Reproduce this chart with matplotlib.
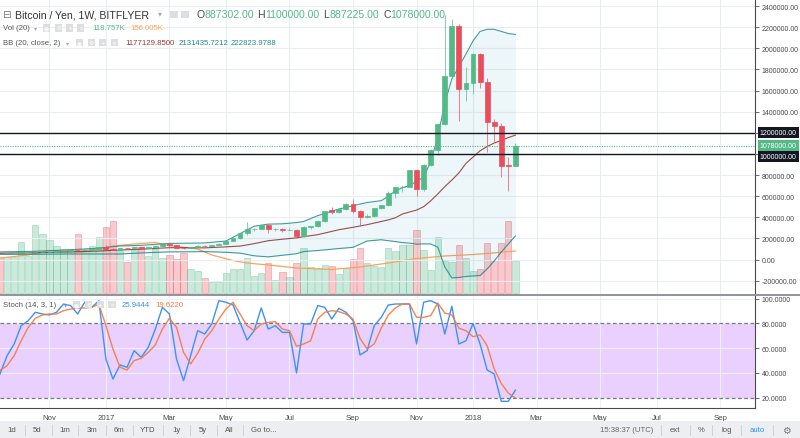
import numpy as np
import pandas as pd
import matplotlib
matplotlib.use('Agg')
import matplotlib.pyplot as plt
import matplotlib.dates as mdates
from matplotlib.patches import Rectangle
from matplotlib.lines import Line2D

plt.rcParams['font.family'] = ['Liberation Sans', 'DejaVu Sans']

# weekly bars BTC/JPY (bitFlyer), prices in thousand yen
first_week = '2016-09-19'
opens = [62.5, 61.8, 62.5, 63.6, 66.4, 68.0, 73.5, 74.0, 75.5, 81.5,
         83.5, 87.5, 86.8, 92.0, 103.8, 116.5, 104.0, 94.0, 105.0, 104.2,
         115.0, 113.0, 119.0, 131.0, 144.5, 139.0, 113.0, 107.5, 120.5, 131.0,
         127.0, 138.5, 151.0, 176.0, 200.0, 250.0, 285.0, 290.0, 330.0, 285.0,
         289.0, 281.0, 284.0, 220.0, 310.0, 313.0, 362.0, 468.0, 452.0, 478.0,
         525.0, 455.0, 402.0, 415.0, 485.0, 516.0, 630.0, 684.0, 690.0, 845.0,
         665.0, 898.0, 1037.0, 1283.0, 1740.0, 2208.0, 1615.0, 1670.0, 1946.0, 1684.0,
         1305.0, 1267.0, 898.0, 887.302]
highs = [63.5, 63.0, 64.0, 67.0, 68.5, 74.5, 76.5, 77.0, 82.0, 84.5,
         88.0, 89.5, 92.5, 104.5, 119.0, 135.0, 106.0, 106.0, 106.5, 116.0,
         119.0, 119.5, 132.0, 146.0, 150.0, 140.5, 118.0, 122.0, 133.0, 133.0,
         140.0, 152.0, 180.0, 199.0, 252.0, 352.0, 300.0, 335.0, 338.0, 300.0,
         295.0, 295.0, 290.0, 318.0, 320.0, 365.0, 460.0, 500.0, 485.0, 535.0,
         573.0, 470.0, 430.0, 490.0, 520.0, 652.0, 690.0, 702.0, 850.0, 855.0,
         905.0, 1045.0, 1290.0, 2320.0, 2277.0, 2230.0, 1820.0, 1960.0, 1960.0, 1720.0,
         1330.0, 1290.0, 970.0, 1100.0]
lows = [61.0, 61.2, 62.0, 63.2, 65.8, 67.5, 70.0, 72.0, 75.0, 80.5,
        83.0, 85.5, 86.5, 91.5, 103.0, 100.0, 86.0, 93.0, 102.5, 104.0,
        104.0, 112.0, 118.5, 130.0, 110.0, 112.0, 100.0, 105.0, 119.0, 125.0,
        126.0, 138.0, 150.0, 172.0, 195.0, 235.0, 268.0, 285.0, 250.0, 270.0,
        265.0, 275.0, 208.0, 215.0, 290.0, 305.0, 355.0, 435.0, 440.0, 470.0,
        440.0, 320.0, 390.0, 405.0, 478.0, 510.0, 580.0, 640.0, 685.0, 604.0,
        650.0, 890.0, 990.0, 1270.0, 1720.0, 1314.0, 1504.0, 1567.0, 1620.0, 1020.0,
        1110.0, 778.0, 651.0, 887.225]
closes = [61.8, 62.5, 63.6, 66.4, 68.0, 73.5, 74.0, 75.5, 81.5, 83.5,
          87.5, 86.8, 92.0, 103.8, 116.5, 104.0, 94.0, 105.0, 104.2, 115.0,
          113.0, 119.0, 131.0, 144.5, 139.0, 113.0, 107.5, 120.5, 131.0, 127.0,
          138.5, 151.0, 176.0, 200.0, 250.0, 285.0, 290.0, 330.0, 285.0, 289.0,
          281.0, 284.0, 220.0, 310.0, 313.0, 362.0, 455.0, 452.0, 478.0, 525.0,
          455.0, 402.0, 415.0, 485.0, 516.0, 630.0, 684.0, 690.0, 845.0, 665.0,
          898.0, 1037.0, 1283.0, 1740.0, 2208.0, 1615.0, 1670.0, 1946.0, 1684.0, 1305.0,
          1267.0, 888.0, 887.302, 1078.0]
volume_k = [128.7, 132.4, 133.6, 188.0, 138.4, 253.4, 218.9, 196.6, 175.5, 163.2,
            163.2, 218.9, 163.2, 175.5, 208.9, 243.7, 266.0, 155.8, 113.9, 159.5,
            169.5, 137.3, 163.2, 128.7, 142.8, 126.1, 147.3, 89.0, 81.6, 54.5,
            41.9, 41.9, 73.1, 89.0, 89.0, 129.9, 64.2, 73.1, 110.2, 49.3,
            77.9, 58.2, 110.2, 165.8, 95.3, 92.8, 103.9, 100.2, 72.3, 92.8,
            126.1, 167.0, 110.6, 101.3, 96.5, 165.8, 156.9, 178.1, 178.1, 233.7,
            159.5, 85.3, 207.8, 118.7, 115.0, 178.1, 129.9, 80.5, 89.0, 185.5,
            123.5, 185.5, 266.0, 118.757]

# volume MA(20), read at some bars
vol_ma_idx = [0, 4, 7, 10, 12, 14, 16, 19, 22, 24, 26, 28, 30, 33, 35, 38, 42, 47, 51, 55, 59, 63, 67, 69, 73]
vol_ma_k = [129.9, 141, 157.7, 154, 152, 163.2, 174.4, 181.8, 187.4, 176.2, 169.5, 163.2, 141,
            120.6, 111.3, 103.9, 92.8, 87.2, 96.5, 111.3, 128, 137.3, 142.8, 146.5, 156.005]

# Bollinger bands (20, close, 2), thousand yen, read at some bars
bb_idx = [0, 5, 10, 14, 17, 20, 24, 27, 29, 32, 34, 36, 38, 40, 42, 43, 45, 48, 50, 52,
          54, 55, 56, 57, 58, 59, 60, 61, 62, 63, 64, 65, 66, 67, 68, 69, 70, 71, 72, 73]
bb_upper = [72, 78, 92, 108, 128, 134, 152, 155, 157, 175, 245, 315, 335, 338, 350, 360, 415, 478, 510, 540,
            557, 600, 650, 680, 700, 740, 780, 923, 1160, 1480, 1710, 1826, 1946, 2070, 2160, 2180, 2180,
            2160, 2140, 2131.4357]
bb_basis = [60, 64, 72, 80, 90, 98, 112, 112, 110, 120, 127, 150, 178, 192, 205, 216, 235, 282, 305, 330,
            360, 375, 395, 431, 450, 468, 500, 555, 620, 690, 752, 820, 910, 970, 1030, 1070, 1103,
            1127, 1155, 1177.1299]
bb_lower = [48, 50, 52, 52, 52, 62, 72, 73, 75, 68, 60, 35, 25, 40, 55, 75, 85, 104, 115, 175,
            187, 178, 170, 160, 155, 145, 148, 147, 118, -70, -175, -170, -161, -156, -152, -90, -14,
            71, 147, 222.8238]

# Stoch (14, 3, 1)
stoch_k = [39.1, 53.9, 63.4, 78.2, 82.3, 89.1, 87.7, 86.9, 89.1, 95.8,
           94.5, 87.7, 97.2, 93.1, 98.5, 51.2, 35.0, 46.4, 44.5, 58.0,
           52.6, 60.7, 75.5, 93.1, 87.7, 51.2, 33.7, 53.9, 74.2, 71.5,
           79.6, 98.5, 97.2, 95.0, 80.9, 66.6, 74.2, 92.6, 75.5, 78.2,
           72.8, 72.8, 39.9, 79.6, 79.6, 94.5, 93.1, 83.6, 92.3, 89.1,
           82.3, 54.5, 58.0, 78.2, 85.0, 95.0, 95.8, 95.8, 95.8, 63.4,
           97.2, 98.5, 95.8, 71.5, 94.0, 63.4, 66.0, 80.0, 63.4, 42.3,
           39.1, 16.9, 16.9, 25.9444]
stoch_d = [42.0, 45.8, 53.9, 66.0, 76.9, 84.2, 86.9, 87.7, 87.7, 90.4,
           91.7, 92.6, 92.6, 93.1, 95.8, 78.2, 59.3, 44.5, 42.3, 49.9,
           51.8, 56.6, 62.6, 75.5, 84.2, 76.9, 56.6, 47.2, 55.8, 67.4,
           74.2, 83.6, 91.7, 97.2, 87.7, 78.2, 74.2, 79.6, 80.9, 81.5,
           75.5, 74.2, 61.5, 63.4, 66.0, 83.6, 89.1, 90.4, 89.6, 87.7,
           83.6, 67.9, 59.3, 63.4, 76.2, 86.9, 92.6, 95.8, 95.8, 85.0,
           85.0, 86.3, 96.6, 88.5, 86.9, 76.2, 74.2, 69.3, 70.7, 62.0,
           43.1, 31.4, 23.6, 19.622]

tick_dates = ['2016-11-07', '2017-01-02', '2017-03-06', '2017-05-01', '2017-07-03', '2017-09-04',
              '2017-11-06', '2018-01-01', '2018-03-05', '2018-05-07', '2018-07-02', '2018-09-03']
tick_labels = ['Nov', '2017', 'Mar', 'May', 'Jul', 'Sep', 'Nov', '2018', 'Mar', 'May', 'Jul', 'Sep']
price_ticks = list(range(-200000, 2400001, 200000))
stoch_ticks = [20, 40, 60, 80, 100]
level_lines = [1200000, 1000000]
last_price = 1078000

GREEN = '#53b987'
RED = '#eb4d5c'
GRID = '#eaeef3'
TXT = '#4a4a4a'
W, H = 800, 439


def fx(px):
    return px / W


def fy(py):
    return 1 - py / H


o = np.array(opens) * 1000
hi = np.array(highs) * 1000
lo = np.array(lows) * 1000
c = np.array(closes) * 1000
vol = np.array(volume_k)
x = mdates.date2num(pd.date_range(first_week, periods=len(opens), freq='7D'))
tx = mdates.date2num(pd.to_datetime(tick_dates))
days_per_px = 7 / 7.06
xlim = (x[0], x[0] + 755 * days_per_px)

fig = plt.figure(figsize=(8, 4.39), dpi=100)
axv = fig.add_axes([0, fy(295), fx(755), 295 / H])
axp = axv.twinx()
axs = fig.add_axes([0, fy(409), fx(755), (409 - 296) / H])

# volume pane (bottom of the main chart)
up = c >= o
vcol = [(0.325, 0.725, 0.53, 0.3) if u else (0.92, 0.30, 0.36, 0.3) for u in up]
vedge = [(0.325, 0.725, 0.53, 0.45) if u else (0.92, 0.30, 0.36, 0.45) for u in up]
axv.bar(x, vol, width=6.3 * days_per_px, color=vcol, edgecolor=vedge, linewidth=0.5, zorder=2)
axv.plot(x[vol_ma_idx], vol_ma_k, color='#f7a35c', lw=0.9, zorder=3)
axv.set_ylim(-3.71, 294 * 3.71)
axv.set_xlim(*xlim)
axv.set_yticks([])
axv.set_xticks(tx)
axv.tick_params(axis='x', length=0, labelbottom=False)
axv.grid(axis='x', color=GRID, lw=0.8)
for s in axv.spines.values():
    s.set_visible(False)

# price
xb = x[bb_idx]
up_b = np.array(bb_upper) * 1000
mid_b = np.array(bb_basis) * 1000
low_b = np.array(bb_lower) * 1000
axp.fill_between(xb, low_b, up_b, color='#2196a8', alpha=0.08, lw=0, zorder=1)
axp.plot(xb, up_b, color='#138484', lw=0.8, alpha=0.8, zorder=2)
axp.plot(xb, low_b, color='#138484', lw=0.8, alpha=0.8, zorder=2)
axp.plot(xb, mid_b, color='#872323', lw=0.8, alpha=0.8, zorder=2)

ccol = [GREEN if u else RED for u in up]
axp.vlines(x, lo, hi, colors=ccol, lw=0.7, alpha=0.7, zorder=3)
axp.bar(x, np.abs(c - o), bottom=np.minimum(o, c), width=4.9 * days_per_px,
        color=ccol, edgecolor=ccol, linewidth=0.5, zorder=4)

for lv in level_lines:
    axp.axhline(lv, color='#131722', lw=1.0, zorder=5)
axp.axhline(last_price, color=GREEN, lw=0.8, ls=(0, (1, 1.2)), zorder=5)

axp.set_ylim(-326700, 2466900)
axp.set_yticks(price_ticks)
axp.set_yticklabels(['' if t in level_lines else '%.2f' % t for t in price_ticks])
axp.tick_params(axis='y', right=True, labelright=True, left=False, labelleft=False,
                length=3, width=0.6, color='#555555', labelsize=5, labelcolor=TXT, pad=2)
axp.set_axisbelow(True)
axp.grid(axis='y', color=GRID, lw=0.8)
for k, s in axp.spines.items():
    s.set_visible(k == 'right')
axp.spines['right'].set_color(TXT)
axp.spines['right'].set_linewidth(0.8)

# right-hand price tags
tags = [(1200000, '1200000.00', '#131722', 0), (last_price, '1078000.00', GREEN, 0),
        (1000000, '1000000.00', '#131722', -1.9)]
for val, txt, colr, dy in tags:
    axp.annotate(txt, xy=(1, val), xycoords=('axes fraction', 'data'), xytext=(3.3, dy),
                 textcoords='offset points', ha='left', va='center', fontsize=5, color='white',
                 bbox=dict(boxstyle='square,pad=0.3', fc=colr, ec='none'),
                 annotation_clip=False, zorder=10)

# stochastic
axs.axhspan(20, 80, color=(0.6, 0.08, 1.0), alpha=0.2, lw=0, zorder=1)
for lv in (80, 20):
    axs.axhline(lv, color='#787b86', lw=0.9, ls=(0, (3, 2)), zorder=2)
axs.plot(x, stoch_k, color='#3d92f5', lw=1.0, zorder=3)
axs.plot(x, stoch_d, color='#f5793a', lw=1.0, alpha=0.9, zorder=3)
axs.set_xlim(*xlim)
axs.set_ylim(11.5, 103.1)
axs.set_yticks(stoch_ticks)
axs.set_yticklabels(['%.4f' % t for t in stoch_ticks])
axs.set_xticks(tx)
axs.set_xticklabels(tick_labels)
axs.tick_params(axis='y', right=True, labelright=True, left=False, labelleft=False,
                length=3, width=0.6, color='#555555', labelsize=5, labelcolor=TXT, pad=2)
axs.tick_params(axis='x', length=0, labelsize=5.6, labelcolor=TXT, pad=4.5)
axs.set_axisbelow('line')
axs.grid(True, color='#eef0f4', lw=0.8)
for k, s in axs.spines.items():
    s.set_visible(k in ('right', 'bottom'))
    s.set_color(TXT)
    s.set_linewidth(0.8)

# pane separator
fig.add_artist(Line2D([0, 1], [fy(295.5), fy(295.5)], color='#8f939a', lw=1.4))

# legends at top-left
fig.text(fx(2.5), fy(15.5), '\u229f', fontsize=7.5, color='#777777', va='center')
fig.text(fx(15), fy(15), 'Bitcoin / Yen, 1W, BITFLYER', fontsize=7.6, color='#333333', va='center')
fig.text(fx(158), fy(15), '\u25be', fontsize=5.5, color='#aaaaaa', va='center')
ohlc = [(196.7, 'O', TXT), (204.5, '887302.00', GREEN), (256.7, 'H', TXT), (265, '1100000.00', GREEN),
        (323.3, 'L', TXT), (330, '887225.00', GREEN), (383.3, 'C', TXT), (390.5, '1078000.00', GREEN)]
for px, t, colr in ohlc:
    fig.text(fx(px), fy(15), t, fontsize=7.6, color=colr, va='center')

rows = [(29, 'Vol (20)', 33.5, [43, 55, 66, 77],
         [(92.7, '118.757K', GREEN), (130, '156.005K', '#f7a35c')]),
        (43.3, 'BB (20, close, 2)', 66, [76, 87.5, 99, 110.5],
         [(125, '1177129.8500', '#a1343c'), (178.3, '2131435.7212', '#1f8a8a'),
          (231, '222823.9788', '#1f8a8a')]),
        (305.7, 'Stoch (14, 3, 1)', 63.5, [73, 85, 96.7, 108.3],
         [(121.7, '25.9444', '#3d92f5'), (155, '19.6220', '#f5793a')])]
glyphs = ['\u25c9', '\u2699', '+', '\u00d7']
for ypx, name, arrow_x, boxes, vals in rows:
    fig.text(fx(2.7), fy(ypx), name, fontsize=5.6, color='#555555', va='center')
    fig.text(fx(arrow_x), fy(ypx), '\u25be', fontsize=4.5, color='#aaaaaa', va='center')
    for bx, g in zip(boxes, glyphs):
        fig.add_artist(Rectangle((fx(bx), fy(ypx + 3.6)), 7.2 / W, 7.2 / H,
                                 transform=fig.transFigure, fc='#dcdee1', ec='none'))
        fig.text(fx(bx + 3.6), fy(ypx), g, fontsize=4.2, color='white', va='center',
                 ha='center', family='DejaVu Sans')
    for px, t, colr in vals:
        fig.text(fx(px), fy(ypx), t, fontsize=5.6, color=colr, va='center')
for bx in (170, 181):
    fig.add_artist(Rectangle((fx(bx), fy(19)), 8 / W, 7.5 / H, transform=fig.transFigure,
                             fc='#dcdee1', ec='none'))

# bottom toolbar
fig.add_artist(Rectangle((0, 0), 1, fy(422), transform=fig.transFigure, fc='#eceef1', ec='none'))
left_items = [(12, '1d'), (37, '5d'), (64.5, '1m'), (91.7, '3m'), (118.7, '6m'), (148, 'YTD'),
              (176.7, '1y'), (203, '5y'), (229, 'All'), (264, 'Go to...')]
for px, t in left_items:
    fig.text(fx(px), fy(431), t, fontsize=5.6, color='#555555', va='center', ha='center')
right_items = [(627, '15:38:37 (UTC)', '#666666'), (675.3, 'ext', '#555555'), (701, '%', '#555555'),
               (726.7, 'log', '#555555'), (757.3, 'auto', '#2196f3')]
for px, t, colr in right_items:
    fig.text(fx(px), fy(431), t, fontsize=5.6, color=colr, va='center', ha='center')
fig.text(fx(786.7), fy(431), '\u2699', fontsize=7, color='#777777', va='center', ha='center',
         family='DejaVu Sans')
for px in (25, 51.7, 78.3, 106, 132.7, 163.3, 190, 216.7, 243.3, 660.7, 690, 711.7, 740.7, 773.3):
    fig.add_artist(Line2D([fx(px), fx(px)], [fy(426), fy(436)], color='#c9ccd1', lw=0.6))

fig.savefig('out.png', dpi=100)
